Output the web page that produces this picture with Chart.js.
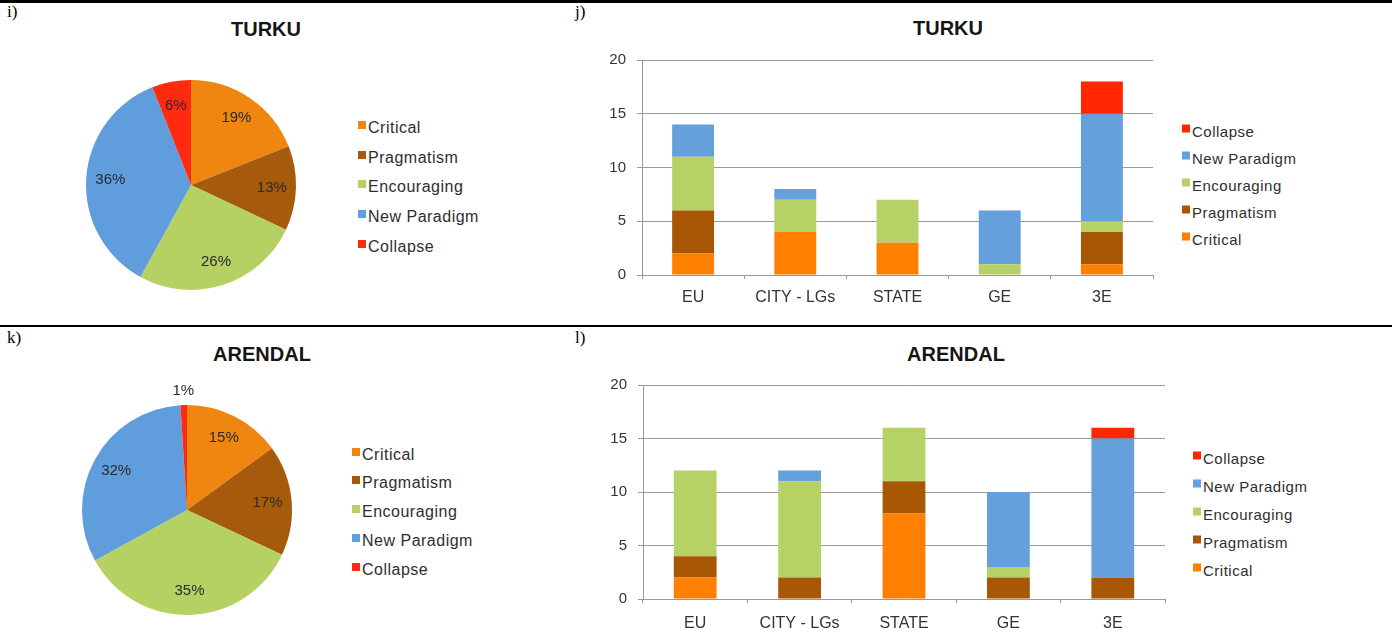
<!DOCTYPE html>
<html>
<head>
<meta charset="utf-8">
<script src="https://cdn.jsdelivr.net/npm/chart.js@4"></script>
<style>
  html, body { margin:0; padding:0; background:#fff; width:1398px; height:637px; overflow:hidden; }
  body { position:relative; font-family:"Liberation Sans", Arial, sans-serif; }
  canvas { position:absolute; }
  .hline { position:absolute; left:0; width:1392px; background:#000; }
  .plabel { position:absolute; font-family:"Liberation Serif", "Times New Roman", serif; font-size:17px; color:#000; }
  .title { position:absolute; font-weight:bold; font-size:20px; color:#151515; transform:translateX(-50%); white-space:nowrap; }
  .legend { position:absolute; }
  .legend .item { position:absolute; left:0; white-space:nowrap; color:#2e2e2e; transform:translateY(-50%); }
  .legend .sw { display:inline-block; width:8px; height:8px; margin-right:2px; vertical-align:top; position:relative; top:2px; }
</style>
</head>
<body>
<div class="hline" style="top:0;height:3px"></div>
<div class="hline" style="top:325px;height:2px"></div>
<div class="plabel" style="left:7px;top:2px">i)</div>
<div class="plabel" style="left:575px;top:2px">j)</div>
<div class="plabel" style="left:7px;top:328px">k)</div>
<div class="plabel" style="left:575px;top:328px">l)</div>
<div class="title" style="left:266px;top:18px">TURKU</div>
<div class="title" style="left:948px;top:17px">TURKU</div>
<div class="title" style="left:262px;top:343px">ARENDAL</div>
<div class="title" style="left:956px;top:343px">ARENDAL</div>

<canvas id="pie1" width="290" height="290" style="left:46px;top:40px"></canvas>
<canvas id="bar1" width="620" height="290" style="left:560px;top:40px"></canvas>
<canvas id="pie2" width="290" height="290" style="left:42px;top:365px"></canvas>
<canvas id="bar2" width="620" height="290" style="left:560px;top:365px"></canvas>

<div class="legend" id="leg1" style="left:358px;top:0"></div>
<div class="legend" id="leg2" style="left:1182px;top:0"></div>
<div class="legend" id="leg3" style="left:352px;top:0"></div>
<div class="legend" id="leg4" style="left:1193px;top:0"></div>

<script>
// ---- DATA ----
const seriesNames = ["Critical", "Pragmatism", "Encouraging", "New Paradigm", "Collapse"];
const categories = ["EU", "CITY - LGs", "STATE", "GE", "3E"];

const turkuPie = [19, 13, 26, 36, 6];      // percent
const arendalPie = [15, 17, 35, 32, 1];    // percent

const turkuCritical    = [2, 4, 3, 0, 1];
const turkuPragmatism  = [4, 0, 0, 0, 3];
const turkuEncouraging = [5, 3, 4, 1, 1];
const turkuNewParadigm = [3, 1, 0, 5, 10];
const turkuCollapse    = [0, 0, 0, 0, 3];

const arendalCritical    = [2, 0, 8, 0, 0];
const arendalPragmatism  = [2, 2, 3, 2, 2];
const arendalEncouraging = [8, 9, 5, 1, 0];
const arendalNewParadigm = [0, 1, 0, 7, 13];
const arendalCollapse    = [0, 0, 0, 0, 1];

const yTicks = [0, 5, 10, 15, 20];

// ---- STYLE ----
const pieColors = ["#EE860F", "#A65A0C", "#B5D063", "#5F9DDC", "#FF2A10"];
const barColors = ["#FF7F00", "#A85705", "#B6D165", "#659FDC", "#FF2600"];

Chart.defaults.font.family = '"Liberation Sans", Arial, sans-serif';
Chart.defaults.animation = false;

const pieLabelPlugin = {
  id: 'pieLabels',
  afterDatasetsDraw(chart) {
    const ctx = chart.ctx;
    const meta = chart.getDatasetMeta(0);
    const data = chart.data.datasets[0].data;
    ctx.save();
    ctx.font = '15px "Liberation Sans", Arial, sans-serif';
    ctx.fillStyle = '#2a2a2a';
    ctx.textAlign = 'center';
    ctx.textBaseline = 'middle';
    meta.data.forEach((arc, i) => {
      const p = arc.getProps(['x', 'y', 'startAngle', 'endAngle', 'outerRadius'], true);
      const mid = (p.startAngle + p.endAngle) / 2;
      const r = data[i] < 3 ? p.outerRadius + 14 : p.outerRadius * 0.77;
      ctx.fillText(data[i] + '%', p.x + Math.cos(mid) * r, p.y + Math.sin(mid) * r);
    });
    ctx.restore();
  }
};

function makePie(id, values) {
  new Chart(document.getElementById(id), {
    type: 'pie',
    data: { labels: seriesNames, datasets: [{ data: values, backgroundColor: pieColors, borderWidth: 0 }] },
    options: {
      responsive: false,
      layout: { padding: 40 },
      plugins: { legend: { display: false }, tooltip: { enabled: false } }
    },
    plugins: [pieLabelPlugin]
  });
}

function makeBar(id, series, pad, tickPad) {
  new Chart(document.getElementById(id), {
    type: 'bar',
    data: {
      labels: categories,
      datasets: series.map((d, i) => ({
        label: seriesNames[i], data: d, backgroundColor: barColors[i], borderWidth: 0,
        categoryPercentage: 1, barPercentage: 0.41
      }))
    },
    options: {
      responsive: false,
      layout: { padding: pad },
      plugins: { legend: { display: false }, tooltip: { enabled: false } },
      scales: {
        x: {
          stacked: true,
          grid: { drawOnChartArea: false, drawTicks: true, tickLength: 4, color: '#999', offset: true },
          border: { color: '#999', width: 1 },
          ticks: { color: '#333', font: { size: 16 }, padding: tickPad },
          afterFit(s) { s.height = 290 - pad.top - pad.bottom - (pad.areaH); }
        },
        y: {
          stacked: true, min: 0, max: 20,
          afterBuildTicks(s) { s.ticks = yTicks.map(v => ({ value: v })); },
          grid: { color: '#9a9a9a', lineWidth: 1, tickLength: 5 },
          border: { color: '#999', width: 1 },
          ticks: { color: '#333', font: { size: 15 }, padding: 11 },
          afterFit(s) { s.width = 82; }
        }
      }
    }
  });
}

makePie('pie1', turkuPie);
makePie('pie2', arendalPie);
makeBar('bar1', [turkuCritical, turkuPragmatism, turkuEncouraging, turkuNewParadigm, turkuCollapse],
  { left: 0, right: 27, top: 17, bottom: 0, areaH: 218 }, 9);
makeBar('bar2', [arendalCritical, arendalPragmatism, arendalEncouraging, arendalNewParadigm, arendalCollapse],
  { left: 1, right: 15, top: 19, bottom: 0, areaH: 215 }, 11);

function legend(id, order, ys, size, spacing) {
  const el = document.getElementById(id);
  order.forEach((idx, k) => {
    const d = document.createElement('div');
    d.className = 'item';
    d.style.top = ys[k] + 'px';
    d.style.fontSize = size + 'px';
    d.style.letterSpacing = spacing + 'px';
    const sw = document.createElement('span');
    sw.className = 'sw';
    sw.style.background = (id === 'leg1' || id === 'leg3') ? pieColors[idx] : barColors[idx];
    d.appendChild(sw);
    d.appendChild(document.createTextNode(seriesNames[idx]));
    el.appendChild(d);
  });
}
legend('leg1', [0, 1, 2, 3, 4], [128, 158, 187, 217, 247], 16, 0.5);
legend('leg3', [0, 1, 2, 3, 4], [455, 483, 512, 541, 570], 16, 0.5);
legend('leg2', [4, 3, 2, 1, 0], [131, 158, 185, 212, 239], 15, 0.5);
legend('leg4', [4, 3, 2, 1, 0], [458, 486, 514, 542, 570], 15, 0.5);
</script>
</body>
</html>
